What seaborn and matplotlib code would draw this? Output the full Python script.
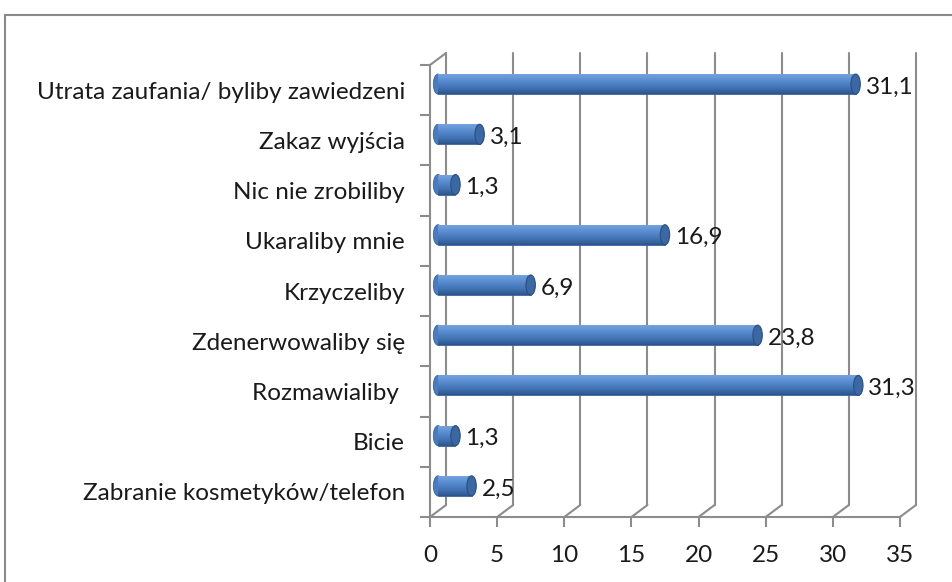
import numpy as np
import pandas as pd
import seaborn as sns
import matplotlib.pyplot as plt
from matplotlib.colors import LinearSegmentedColormap
from matplotlib.patches import Ellipse, Rectangle

categories = [
    "Utrata zaufania/ byliby zawiedzeni",
    "Zakaz wyjścia",
    "Nic nie zrobiliby",
    "Ukaraliby mnie",
    "Krzyczeliby",
    "Zdenerwowaliby się",
    "Rozmawialiby ",
    "Bicie",
    "Zabranie kosmetyków/telefon",
]
values = [31.1, 3.1, 1.3, 16.9, 6.9, 23.8, 31.3, 1.3, 2.5]
xticks = [0, 5, 10, 15, 20, 25, 30, 35]

df = pd.DataFrame({"kat": categories, "proc": values})

sns.set_style("white")
plt.rcParams["font.family"] = ["Lato", "DejaVu Sans"]

GRID = "#8c8c8c"
TXT = "#1a1a1a"
FS = 17.5
DX = 16 / 469 * 35      # depth offset of the back wall, data units
DY = 12 / 50.2          # depth offset upwards, category units
BH = 0.40               # bar thickness

fig = plt.figure(figsize=(9.53, 5.82), dpi=100)
ax = fig.add_axes([430 / 953, 65 / 582, 486 / 953, 464 / 582])

sns.barplot(data=df, x="proc", y="kat", orient="h", color="#4f81bd",
            width=BH, ax=ax, zorder=3)

cmap = LinearSegmentedColormap.from_list(
    "cyl", ["#7aa6e0", "#6394d6", "#4f82c6", "#3f6fae", "#2c558c"])
grad = np.linspace(0, 1, 64).reshape(-1, 1)

for p, v in zip(ax.patches, values):
    x0 = DX / 2
    y0 = p.get_y() - DY / 2
    p.set_x(x0)
    p.set_y(y0)
    p.set_edgecolor("#3a629b")
    p.set_linewidth(0.6)
    yc = y0 + p.get_height() / 2
    im = ax.imshow(grad, cmap=cmap, aspect="auto", origin="upper",
                   extent=(x0, x0 + v, y0 + p.get_height(), y0), zorder=3.5)
    im.set_clip_path(p)
    # rounded far end and visible end cap
    ax.add_patch(Ellipse((x0, yc), 0.7, p.get_height(), facecolor="#4a7cbd",
                         edgecolor="#3a629b", lw=0.6, zorder=3.2))
    ax.add_patch(Ellipse((x0 + v, yc), 0.7, p.get_height(), facecolor="#3b67a2",
                         edgecolor="#2c4f80", lw=0.8, zorder=4))
    ax.text(x0 + v + 0.75, yc + 0.06, f"{v:.1f}".replace(".", ","),
            va="center", ha="left", fontsize=FS, color=TXT, zorder=5)

# back wall, floor diagonals and top-left edge
n = len(categories)
yb, yt = n - 0.5, -0.5
for t in xticks:
    ax.plot([t + DX, t + DX], [yb - DY, yt - DY], color=GRID, lw=1.5,
            zorder=1, clip_on=False)
    ax.plot([t, t + DX], [yb, yb - DY], color=GRID, lw=1.5, zorder=1,
            clip_on=False)
ax.plot([0, DX], [yt, yt - DY], color=GRID, lw=1.5, zorder=1, clip_on=False)

ax.set_xlim(0, 35 + DX)
ax.set_ylim(yb, yt - DY)
ax.set_xticks(xticks)
ax.set_xticklabels([str(t) for t in xticks])
ax.set_yticks(range(n))
ax.set_yticks(np.arange(-0.5, n, 1), minor=True)
ax.set_xlabel("")
ax.set_ylabel("")

for s in ["top", "right"]:
    ax.spines[s].set_visible(False)
for s in ["left", "bottom"]:
    ax.spines[s].set_color(GRID)
    ax.spines[s].set_linewidth(1.5)
ax.spines["bottom"].set_bounds(0, 35)
ax.spines["left"].set_bounds(yb, yt)

ax.tick_params(axis="x", bottom=True, length=7, width=1.5, color=GRID, pad=13,
               labelsize=FS, labelcolor=TXT)
ax.tick_params(axis="y", which="major", left=True, length=0, pad=18,
               labelsize=FS, labelcolor=TXT)
ax.tick_params(axis="y", which="minor", left=True, length=7, width=1.5,
               color=GRID)

# outer chart frame
fig.patches.append(Rectangle((5 / 953, -0.05), 1.1, 1 - 15 / 582 + 0.05,
                             transform=fig.transFigure, fill=False,
                             edgecolor="#8a8a8a", lw=1.5))

fig.savefig("out.png", dpi=100)
